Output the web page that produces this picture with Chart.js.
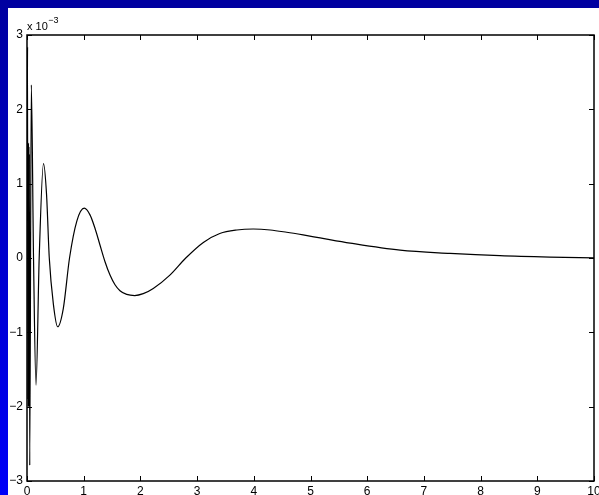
<!DOCTYPE html>
<html>
<head>
<meta charset="utf-8">
<script src="https://cdn.jsdelivr.net/npm/chart.js@4/dist/chart.umd.min.js"></script>
<style>
  html, body { margin: 0; padding: 0; }
  body { width: 599px; height: 495px; overflow: hidden; position: relative; background: #0000a0; }
  #side { position: absolute; left: 0; top: 0; width: 8px; height: 495px;
          background: linear-gradient(to bottom, #0000a0, #0000f8); }
  #fig { position: absolute; left: 8px; top: 8px; width: 591px; height: 487px; background: #fff; }
  canvas { display: block; }
</style>
</head>
<body>
<div id="side"></div>
<div id="fig"><canvas id="c" width="591" height="487"></canvas></div>
<script>
// Response signal: time values and amplitude (in units of 1e-3)
const xValues = [0, 0.010, 0.014, 0.018, 0.022, 0.026, 0.030, 0.034, 0.038, 0.042,
                 0.048, 0.076, 0.115, 0.159, 0.215, 0.291, 0.345, 0.393, 0.465, 0.541,
                 0.64, 0.75, 0.88, 1.01, 1.111, 1.199, 1.287, 1.376, 1.464, 1.552,
                 1.64, 1.758, 1.90, 2.05, 2.227, 2.52, 2.80, 3.11, 3.40, 3.70,
                 3.99, 4.29, 4.58, 4.87, 5.17, 5.70, 6.58, 7.46, 8.34, 9.22, 10.0];
const yValues = [0.5, 2.84, -1.9, 1.5, -2.0, 1.55, -2.0, 1.5, -1.95, 1.4,
                 -2.79, 2.33, 0.0, -1.71, 0.0, 1.27, 0.85, 0.0, -0.62, -0.925,
                 -0.68, 0.0, 0.5, 0.67, 0.58, 0.40, 0.175, -0.05, -0.23, -0.36,
                 -0.44, -0.49, -0.505, -0.48, -0.41, -0.23, 0.0, 0.21, 0.33, 0.377,
                 0.39, 0.377, 0.346, 0.31, 0.27, 0.20, 0.105, 0.062, 0.031, 0.013, 0.003];
const xTicks = [0, 1, 2, 3, 4, 5, 6, 7, 8, 9, 10];
const yTicks = [-3, -2, -1, 0, 1, 2, 3];
const yExponent = '\u22123';

const FONT = '"Liberation Sans", Arial, Helvetica, sans-serif';
const points = xValues.map((x, i) => ({ x, y: yValues[i] }));

// Box around the axes, inward tick marks on all four sides, and the exponent label
const frame = {
  id: 'frame',
  afterDatasetsDraw(chart) {
    const { ctx, chartArea: a, scales: { x, y } } = chart;
    ctx.save();
    ctx.strokeStyle = '#000';
    ctx.lineWidth = 1.5;
    ctx.strokeRect(a.left, a.top, a.right - a.left, a.bottom - a.top);
    ctx.lineWidth = 1;
    ctx.beginPath();
    const tl = 5;
    xTicks.forEach(v => {
      const px = Math.round(x.getPixelForValue(v)) + 0.5;
      ctx.moveTo(px, a.bottom); ctx.lineTo(px, a.bottom - tl);
      ctx.moveTo(px, a.top); ctx.lineTo(px, a.top + tl);
    });
    yTicks.forEach(v => {
      const py = Math.round(y.getPixelForValue(v)) + 0.5;
      ctx.moveTo(a.left, py); ctx.lineTo(a.left + tl, py);
      ctx.moveTo(a.right, py); ctx.lineTo(a.right - tl, py);
    });
    ctx.stroke();
    ctx.fillStyle = '#000';
    ctx.textBaseline = 'alphabetic';
    ctx.textAlign = 'left';
    ctx.font = '11px ' + FONT;
    ctx.fillText('x 10', a.left, a.top - 5);
    const w = ctx.measureText('x 10').width;
    ctx.font = '9px ' + FONT;
    ctx.fillText(yExponent, a.left + w + 0.5, a.top - 12);
    ctx.restore();
  }
};

new Chart(document.getElementById('c'), {
  type: 'line',
  data: {
    datasets: [{
      data: points,
      borderColor: '#000',
      borderWidth: 1.2,
      pointRadius: 0,
      fill: false,
      cubicInterpolationMode: 'monotone'
    }]
  },
  options: {
    responsive: false,
    animation: false,
    events: [],
    layout: { padding: { top: 27, right: 5, left: 0, bottom: 0 } },
    plugins: { legend: { display: false }, tooltip: { enabled: false } },
    scales: {
      x: {
        type: 'linear',
        min: 0, max: 10,
        afterFit: s => { s.height = 14; s.paddingLeft = 0; s.paddingRight = 0; },
        afterBuildTicks: s => { s.ticks = xTicks.map(v => ({ value: v })); },
        grid: { display: false, drawTicks: false },
        border: { display: false },
        ticks: {
          autoSkip: false, maxRotation: 0, padding: 3,
          color: '#000', font: { family: FONT, size: 12 },
          callback: v => String(v)
        }
      },
      y: {
        type: 'linear',
        min: -3, max: 3,
        afterFit: s => { s.width = 19; s.paddingTop = 0; s.paddingBottom = 0; },
        afterBuildTicks: s => { s.ticks = yTicks.map(v => ({ value: v })); },
        grid: { display: false, drawTicks: false },
        border: { display: false },
        ticks: {
          autoSkip: false, padding: 4,
          color: '#000', font: { family: FONT, size: 12 },
          callback: v => (v < 0 ? '\u2212' + Math.abs(v) : String(v))
        }
      }
    }
  },
  plugins: [frame]
});
</script>
</body>
</html>
